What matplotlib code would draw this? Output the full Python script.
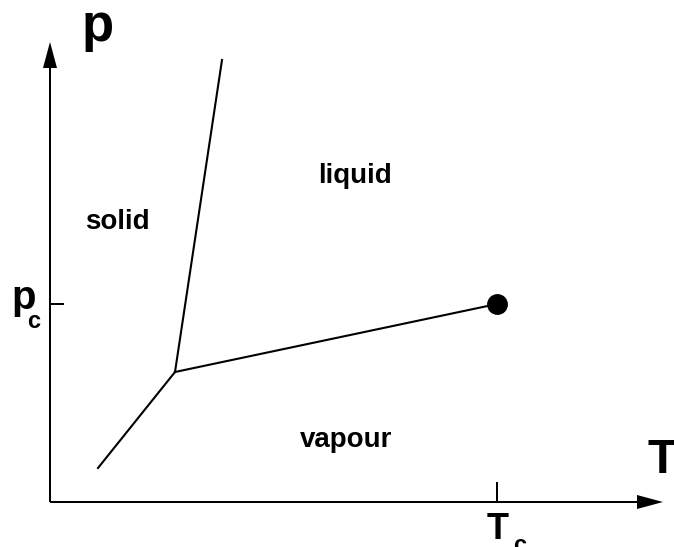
import matplotlib.pyplot as plt

plt.rcParams['font.family'] = ['Liberation Sans', 'DejaVu Sans']

# phase diagram, schematic units (roughly pixels from the origin)
T_c = 447
p_c = 198
T_triple = 125
p_triple = 130

sub_T = [48, T_triple]
sub_p = [34, p_triple]
melt_T = [T_triple, 172]
melt_p = [p_triple, 442]
vap_T = [T_triple, T_c]
vap_p = [p_triple, p_c]

T_max = 613
p_max = 460

fig = plt.figure(figsize=(6.74, 5.47), dpi=100)
ax = fig.add_axes([0, 0, 1, 1])
ax.set_xlim(-50, 624)
ax.set_ylim(-45, 502)
ax.axis('off')

# axes with arrows
ax.arrow(0, 0, T_max, 0, width=2, head_width=14, head_length=26,
         length_includes_head=True, fc='k', ec='k', lw=0)
ax.arrow(0, 0, 0, p_max, width=2, head_width=14, head_length=26,
         length_includes_head=True, fc='k', ec='k', lw=0)

# ticks for critical point
ax.plot([0, 14], [p_c, p_c], color='k', lw=1.44, solid_capstyle='butt')
ax.plot([T_c, T_c], [0, 20], color='k', lw=1.44, solid_capstyle='butt')

lw = 1.5
ax.plot(sub_T, sub_p, color='k', lw=lw)
ax.plot(melt_T, melt_p, color='k', lw=lw)
ax.plot(vap_T, vap_p, color='k', lw=lw)
ax.plot(T_c, p_c, 'o', color='k', ms=14)

fw = 'bold'
ax.text(48, 461, 'p', fontsize=38, fontweight=fw, ha='center', va='baseline')
ax.text(612, 29, 'T', fontsize=35, fontweight=fw, ha='center', va='baseline')
ax.text(-26, 193, 'p', fontsize=29, fontweight=fw, ha='center', va='baseline')
ax.text(-16.5, 174, 'c', fontsize=17, fontweight=fw, ha='center', va='baseline')
ax.text(448, -37, 'T', fontsize=26, fontweight=fw, ha='center', va='baseline')
ax.text(470, -50, 'c', fontsize=17, fontweight=fw, ha='center', va='baseline')

ax.text(67, 273, 'solid', fontsize=20, fontweight=fw, ha='center', va='baseline')
ax.text(305, 319, 'liquid', fontsize=20, fontweight=fw, ha='center', va='baseline')
ax.text(296, 55, 'vapour', fontsize=20, fontweight=fw, ha='center', va='baseline')

fig.savefig('out.png', dpi=100)
